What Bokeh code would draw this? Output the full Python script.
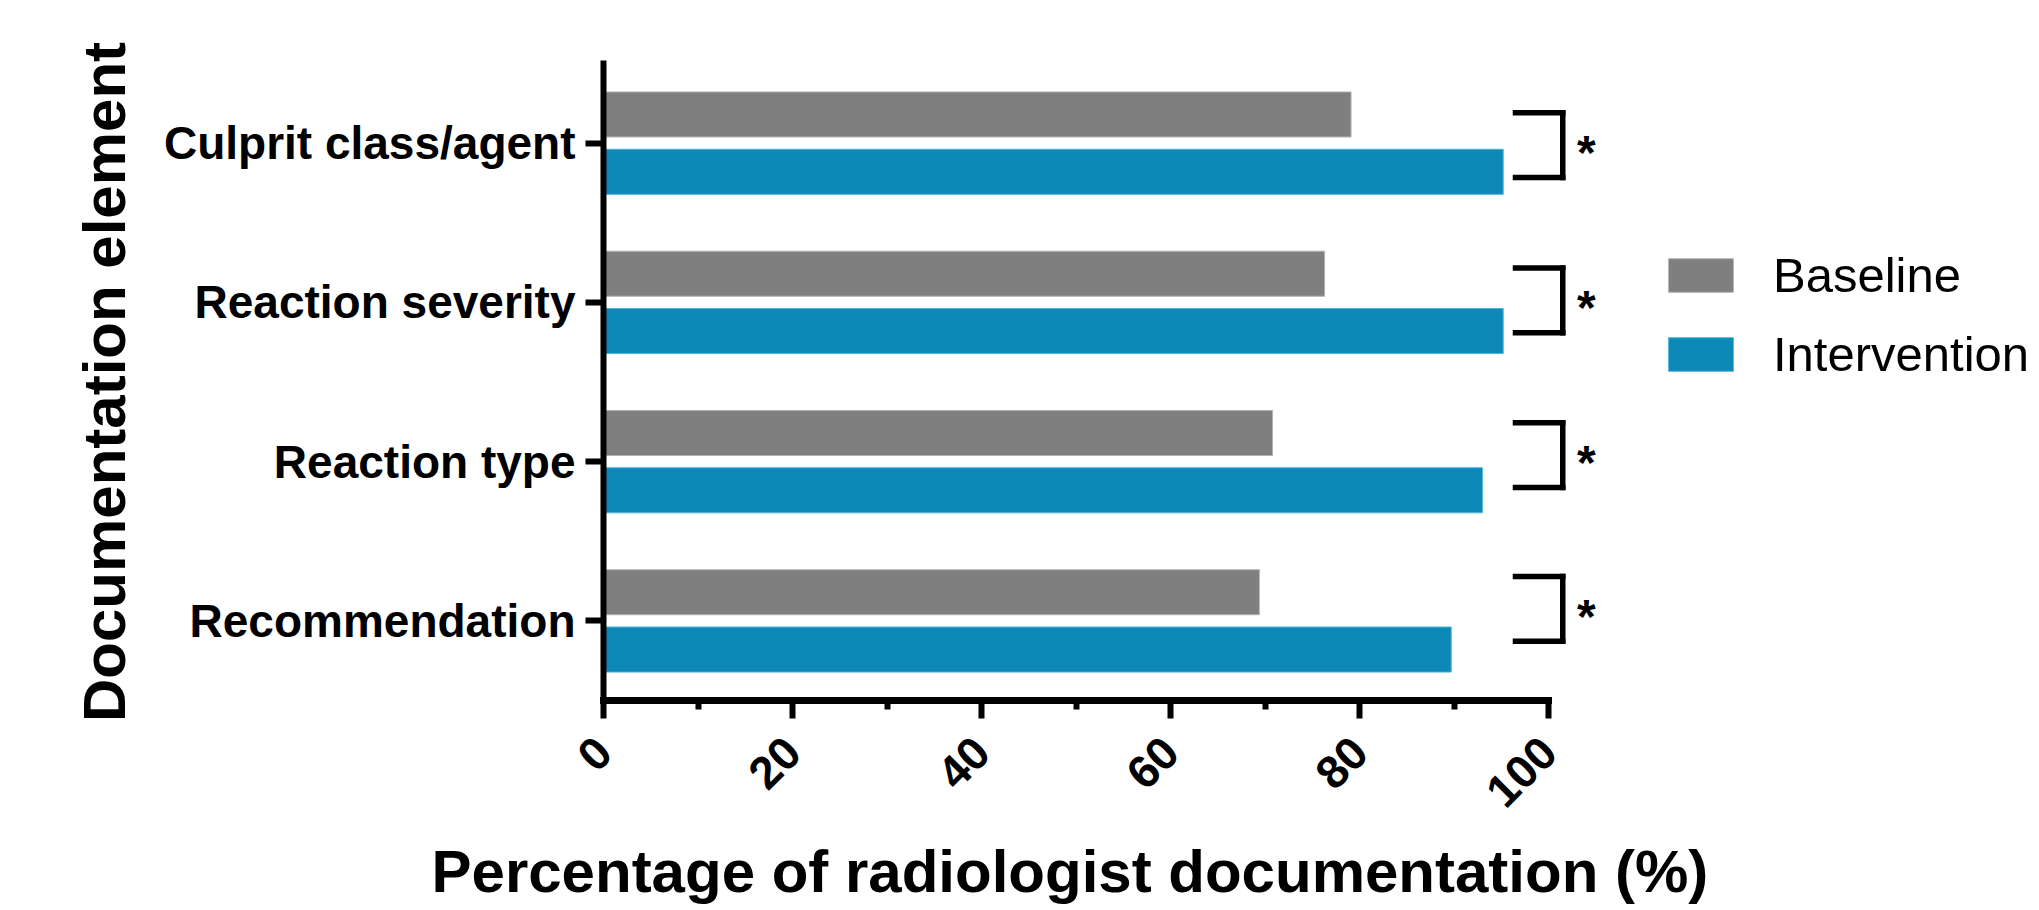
import math
from bokeh.plotting import figure
from bokeh.models import (ColumnDataSource, FactorRange, Range1d, FixedTicker,
                          Legend, LegendItem, Title)
from bokeh.transform import dodge
from bokeh.core.properties import value
from bokeh.embed import file_html
from bokeh.resources import INLINE

# ---------------- data ----------------
categories = ["Culprit class/agent", "Reaction severity", "Reaction type", "Recommendation"]
baseline = [79.1, 76.3, 70.8, 69.4]
intervention = [95.2, 95.2, 93.0, 89.7]
significance = ["*", "*", "*", "*"]
series_names = ["Baseline", "Intervention"]
x_ticks = [0, 20, 40, 60, 80, 100]
x_minor_ticks = [10, 30, 50, 70, 90]
x_title = "Percentage of radiologist documentation (%)"
y_title = "Documentation element"

# ---------------- style ----------------
FONT = "Liberation Sans"
GRAY = "#7f7f7f"
BLUE = "#0c89b6"
BAR_H = 0.283
BAR_OFF = 0.18
BR_LEFT, BR_RIGHT, BR_HALF = 96.5, 101.5, 0.203
BR_SHIFT = [-0.0125, 0.0125, 0.041, 0.075]   # per-group vertical nudge of brackets
STAR_X = 103.0
LEFT_BORDER = 603
FRAME_W = 1428

source = ColumnDataSource(dict(cat=categories, baseline=baseline,
                               intervention=intervention, sig=significance))

y_range = FactorRange(factors=categories[::-1], range_padding=0)
x_range = Range1d(0, 151.1)

p = figure(y_range=y_range, x_range=x_range,
           frame_width=FRAME_W, frame_height=637,
           min_border_left=LEFT_BORDER, min_border_right=0,
           min_border_top=63, min_border_bottom=200,
           output_backend="svg", toolbar_location=None)
p.outline_line_color = None
p.xgrid.grid_line_color = None
p.ygrid.grid_line_color = None
p.background_fill_color = "white"
p.border_fill_color = "white"

r_base = p.hbar(y=dodge("cat", BAR_OFF, range=y_range), left=0, right="baseline",
                height=BAR_H, source=source, fill_color=GRAY,
                line_color="#b4b4b4", line_width=1)
r_int = p.hbar(y=dodge("cat", -BAR_OFF, range=y_range), left=0, right="intervention",
               height=BAR_H, source=source, fill_color=BLUE,
               line_color="#4fb4da", line_width=1)

# significance brackets (one per category)
for i, cat in enumerate(categories):
    sub = ColumnDataSource(dict(cat=[cat], sig=[significance[i]]))
    mid = BR_SHIFT[i]
    top = dodge("cat", mid + BR_HALF, range=y_range)
    bot = dodge("cat", mid - BR_HALF, range=y_range)
    p.segment(x0=BR_LEFT, x1=BR_RIGHT, y0=top, y1=top, source=sub,
              line_color="black", line_width=5.5, line_cap="square")
    p.segment(x0=BR_LEFT, x1=BR_RIGHT, y0=bot, y1=bot, source=sub,
              line_color="black", line_width=5.5, line_cap="square")
    p.segment(x0=BR_RIGHT, x1=BR_RIGHT, y0=top, y1=bot, source=sub,
              line_color="black", line_width=5.5, line_cap="square")
    p.text(x=STAR_X, y=dodge("cat", mid - 0.045, range=y_range), text="sig",
           source=sub, text_font=value(FONT), text_font_size="48px",
           text_font_style="bold",
           text_align="left", text_baseline="middle", text_color="black")

# y axis
ya = p.yaxis[0]
ya.axis_line_width = 6
ya.axis_line_cap = "square"
ya.major_tick_out = 18
ya.major_tick_in = 0
ya.major_tick_line_width = 6
ya.major_label_text_font = FONT
ya.major_label_text_font_style = "bold"
ya.major_label_text_font_size = "46px"
ya.major_label_text_color = "black"
ya.major_label_standoff = 10
ya.axis_label = y_title
ya.axis_label_text_font = FONT
ya.axis_label_text_font_style = "bold"
ya.axis_label_text_font_size = "60px"
ya.axis_label_text_color = "black"
ya.axis_label_standoff = 23

# x axis
xa = p.xaxis[0]
xa.ticker = FixedTicker(ticks=x_ticks, minor_ticks=x_minor_ticks)
xa.bounds = (0, 100)
xa.axis_line_width = 7
xa.axis_line_cap = "square"
xa.major_tick_out = 18
xa.major_tick_in = 0
xa.minor_tick_out = 9
xa.minor_tick_in = 0
xa.major_tick_line_width = 6
xa.minor_tick_line_width = 6
xa.major_label_orientation = math.pi / 4
xa.major_label_text_font = FONT
xa.major_label_text_font_style = "bold"
xa.major_label_text_font_size = "46px"
xa.major_label_text_color = "black"
xa.major_label_standoff = 26

# x-axis title, centred under the 0-100 axis (the frame extends further right)
p.add_layout(Title(text=x_title, align="left", vertical_align="top",
                   offset=-172, standoff=26, text_font=FONT,
                   text_font_style="bold", text_font_size="60px",
                   text_color="black"), "below")

legend = Legend(items=[LegendItem(label=series_names[0], renderers=[r_base]),
                       LegendItem(label=series_names[1], renderers=[r_int])],
                location=(1057, 318), orientation="vertical",
                glyph_width=81, glyph_height=42, label_standoff=32,
                label_height=34, spacing=23, padding=0, margin=0,
                border_line_alpha=0, background_fill_alpha=0,
                label_text_font=FONT, label_text_font_size="49px",
                label_text_color="black")
p.add_layout(legend)

open("out.html", "w").write(file_html(p, INLINE))
